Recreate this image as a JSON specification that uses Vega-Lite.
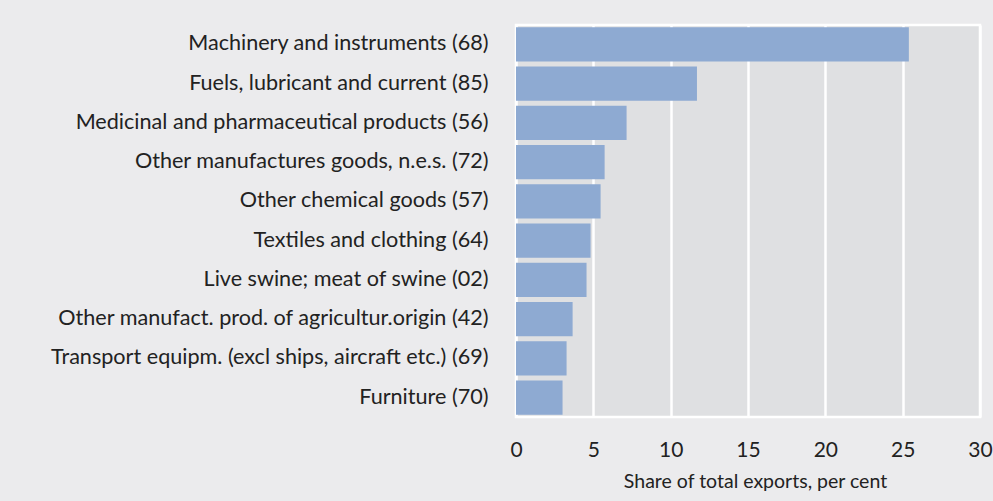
{
  "$schema": "https://vega.github.io/schema/vega-lite/v6.json",
  "autosize": "none",
  "width": 464,
  "height": 392,
  "padding": {"left": 516, "top": 25, "right": 13, "bottom": 84},
  "background": "#ebebed",
  "data": {
    "values": [
      {"category": "Machinery and instruments (68)", "share": 25.4},
      {"category": "Fuels, lubricant and current (85)", "share": 11.7},
      {"category": "Medicinal and pharmaceutical products (56)", "share": 7.15},
      {"category": "Other manufactures goods, n.e.s. (72)", "share": 5.73},
      {"category": "Other chemical goods  (57)", "share": 5.47},
      {"category": "Textiles and clothing (64)", "share": 4.82},
      {"category": "Live swine; meat of swine (02)", "share": 4.56},
      {"category": "Other manufact. prod. of agricultur.origin (42)", "share": 3.66},
      {"category": "Transport equipm. (excl ships, aircraft etc.) (69)", "share": 3.27},
      {"category": "Furniture (70)", "share": 3.01}
    ]
  },
  "mark": {"type": "bar", "color": "#8eaad2"},
  "encoding": {
    "y": {
      "field": "category",
      "type": "nominal",
      "sort": null,
      "scale": {"paddingInner": 0.13, "paddingOuter": 0.06},
      "axis": {
        "title": null,
        "ticks": false,
        "domain": false,
        "grid": false,
        "labelPadding": 28,
        "labelFont": "Lato",
        "labelFontSize": 21.6,
        "labelColor": "#222222",
        "labelLimit": 520
      }
    },
    "x": {
      "field": "share",
      "type": "quantitative",
      "scale": {"domain": [0, 30], "nice": false},
      "axis": {
        "values": [0, 5, 10, 15, 20, 25, 30],
        "title": "Share of total exports, per cent",
        "titleFont": "Lato",
        "titleFontSize": 19.5,
        "titleFontWeight": "normal",
        "titleColor": "#222222",
        "titlePadding": 12,
        "titleX": 239,
        "ticks": false,
        "domain": false,
        "grid": true,
        "gridColor": "#ffffff",
        "gridWidth": 2.5,
        "gridOpacity": 1,
        "labelFlush": false,
        "labelPadding": 22,
        "labelFont": "Lato",
        "labelFontSize": 21,
        "labelColor": "#222222"
      }
    }
  },
  "config": {
    "view": {"fill": "#dfe0e2", "stroke": "#ffffff", "strokeWidth": 2.5}
  }
}
